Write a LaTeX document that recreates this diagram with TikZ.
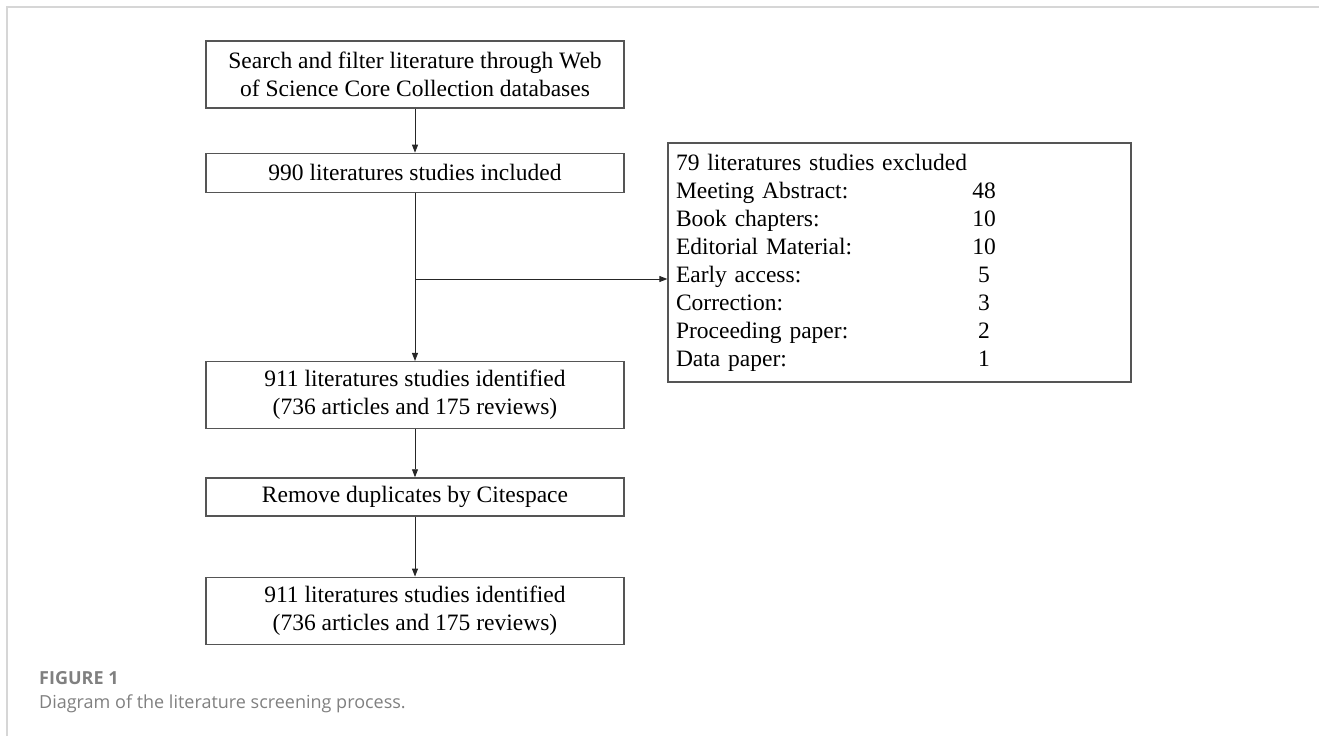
\documentclass[tikz,border=0pt]{standalone}
\usepackage{fontspec}
\setmainfont{Liberation Serif}
\newfontfamily\capfont{Open Sans}
\usetikzlibrary{arrows.meta,positioning}

\definecolor{framegray}{HTML}{D6D6D6}
\definecolor{boxgray}{HTML}{555555}
\definecolor{captiongray}{HTML}{808080}

% one row of the exclusion list: reason and count
\newcommand{\exclrow}[2]{\makebox[296pt][l]{#1}\makebox[24pt]{#2}}

\begin{document}
\begin{tikzpicture}[
    x=1pt, y=-1pt,
    stage/.style={draw=boxgray, line width=1.3pt, minimum width=418pt, inner sep=0pt, align=center, font=\fontsize{23.5}{28}\selectfont},
    onerow/.style={stage, minimum height=39pt},
    tworow/.style={stage, minimum height=67pt},
    sidebox/.style={draw=boxgray, line width=1.3pt, text width=447pt, inner xsep=8pt, inner ysep=0pt, minimum height=239pt, align=left, font=\fontsize{23.5}{28}\selectfont},
    arrow/.style={-{Triangle[length=8pt,width=6pt]}, line width=0.9pt, draw=black!85},
    caption/.style={anchor=base west, inner sep=0pt, text=captiongray},
    node distance=44pt
]
\useasboundingbox (0,0) rectangle (1319,736);

% page frame
\draw[framegray, line width=2pt] (7,736) -- (7,7) -- (1319,7);

% screening steps
\node[tworow] (search) at (415,74.5) {Search and filter literature through Web\\of Science Core Collection databases};
\node[onerow, below=44pt of search] (included) {990 literatures studies included};
\node[tworow, below=168pt of included] (identified) {911 literatures studies identified\\(736 articles and 175 reviews)};
\node[onerow, minimum height=38pt, below=48pt of identified] (dedup) {Remove duplicates by Citespace};
\node[tworow, below=60pt of dedup] (final) {911 literatures studies identified\\(736 articles and 175 reviews)};

% excluded records
\node[sidebox] (excluded) at (899.5,262.5) {79 literatures studies excluded\\
  \exclrow{Meeting Abstract:}{48}\\
  \exclrow{Book chapters:}{10}\\
  \exclrow{Editorial Material:}{10}\\
  \exclrow{Early access:}{5}\\
  \exclrow{Correction:}{3}\\
  \exclrow{Proceeding paper:}{2}\\
  \exclrow{Data paper:}{1}};

% arrows
\draw[arrow] (search) -- (included);
\draw[arrow] (included) -- (identified);
\coordinate (split) at (415,279);
\draw[arrow] (split) -- (split -| excluded.west);
\draw[arrow] (identified) -- (dedup);
\draw[arrow] (dedup) -- (final);

% caption
\node[caption, font=\capfont\bfseries\fontsize{18}{22}\selectfont] (figlabel) at (39,684) {FIGURE 1};
\node[caption, font=\capfont\fontsize{18}{22}\selectfont] (figtext) at (39,708) {Diagram of the literature screening process.};

\end{tikzpicture}
\end{document}
